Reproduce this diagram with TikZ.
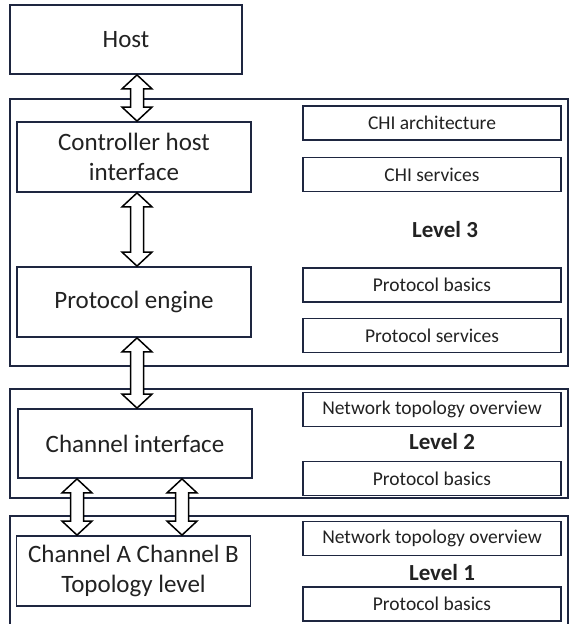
\documentclass[tikz,border=0pt]{standalone}
\usepackage{fontspec}
\setmainfont{Carlito}
\usetikzlibrary{calc}
\definecolor{boxline}{HTML}{1E2640}
\definecolor{txt}{HTML}{222222}

% hollow two-headed arrow at the x of #1, from node #2 down to node #3
\newcommand\dblarrow[3]{%
  \draw[blockarrow] let \p1=(#2.south -| #1), \p2=(#3.north -| #1) in
    (\x1,\y1) -- ++(15pt,-14pt) -- ++(-8.5pt,0pt) -- ({\x1+6.5pt},{\y2+14pt})
    -- ++(8.5pt,0pt) -- (\x1,\y2) -- ++(-15pt,14pt) -- ++(8.5pt,0pt)
    -- ({\x1-6.5pt},{\y1-14pt}) -- ++(-8.5pt,0pt) -- cycle;}

\begin{document}
\begin{tikzpicture}[x=1pt, y=-1pt,
    levelbox/.style={draw=boxline, line width=1.8pt, inner sep=0pt, minimum width=558pt},
    bigbox/.style={draw=boxline, line width=1.8pt, fill=white, text=txt, align=center,
      minimum width=234pt, minimum height=70pt, inner sep=0pt, font=\fontsize{25}{30}\selectfont},
    smallbox/.style={draw=boxline, line width=1.8pt, fill=white, text=txt,
      minimum width=258pt, minimum height=34pt, inner sep=0pt, font=\fontsize{19.5}{22}\selectfont},
    levellabel/.style={text=txt, font=\bfseries\fontsize{23}{26}\selectfont},
    blockarrow/.style={draw=black, line width=1.5pt, fill=white, line join=miter}]
    \useasboundingbox (0,0) rectangle (569,624);
    \clip (0,0) rectangle (569,624);

    \node[levelbox, minimum height=267pt] at (289,232.5) (lvl3) {};
    \node[levelbox, minimum height=109pt] at (289,443.5) (lvl2) {};
    \node[levelbox, minimum height=124pt] at (289,578)   (lvl1) {};

    \node[bigbox, minimum width=232pt, minimum height=69pt] at (126,39.5) (host) {Host};

    \node[bigbox] at (134,157)   (chi)  {Controller host\\interface};
    \node[bigbox] at (134,302)   (pe)   {Protocol engine};
    \node[smallbox] at (432,123)   (chiarch) {CHI architecture};
    \node[smallbox] at (432,174.5) (chiserv) {CHI services};
    \node[levellabel] at (445,230) (l3) {Level 3};
    \node[smallbox] at (432,285)   (pbasic3) {Protocol basics};
    \node[smallbox] at (432,335.5) (pserv)   {Protocol services};

    \node[bigbox, minimum height=69pt] at (135,443.5) (ci) {Channel interface};
    \node[smallbox] at (432,409.5) (nto2)    {Network topology overview};
    \node[levellabel] at (442,442) (l2) {Level 2};
    \node[smallbox] at (432,478.5) (pbasic2) {Protocol basics};

    \node[bigbox] at (133.5,571) (chab) {Channel A Channel B\\Topology level};
    \node[smallbox] at (432,538.5) (nto1)    {Network topology overview};
    \node[levellabel] at (442,573) (l1) {Level 1};
    \node[smallbox] at (432,604)   (pbasic1) {Protocol basics};

    \coordinate (xmid) at (137,0);
    \coordinate (xa)   at (77,0);
    \coordinate (xb)   at (182,0);
    \dblarrow{xmid}{host}{chi}
    \dblarrow{xmid}{chi}{pe}
    \dblarrow{xmid}{pe}{ci}
    \dblarrow{xa}{ci}{chab}
    \dblarrow{xb}{ci}{chab}
  \end{tikzpicture}
\end{document}
